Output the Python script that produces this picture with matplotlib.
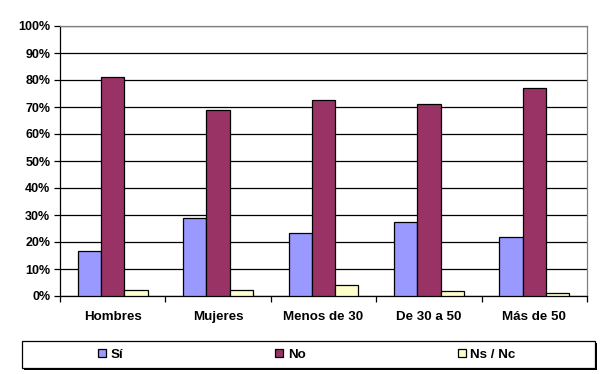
import numpy as np
import matplotlib
matplotlib.use("Agg")
from matplotlib import pyplot as plt
from matplotlib.patches import Rectangle
from matplotlib.ticker import FuncFormatter

categories = ["Hombres", "Mujeres", "Menos de 30", "De 30 a 50", "Más de 50"]
si = [16.5, 28.8, 23.2, 27.3, 21.7]
no = [81.0, 68.8, 72.5, 71.0, 76.9]
ns_nc = [2.1, 2.1, 4.1, 1.9, 1.0]
series_names = ["Sí", "No", "Ns / Nc"]
colors = ["#9999FF", "#993366", "#FFFFCC"]

plt.rcParams['font.family'] = ['Liberation Sans', 'DejaVu Sans']
plt.rcParams['font.weight'] = 'bold'
plt.rcParams['font.size'] = 9

W, H = 601, 374
fig = plt.figure(figsize=(W / 100, H / 100), dpi=100)
ax = fig.add_axes([60 / W, (H - 296) / H, (587 - 60) / W, (296 - 26) / H])

x = np.arange(len(categories))
width = 0.221
bars = []
for i, (vals, name) in enumerate(zip([si, no, ns_nc], series_names)):
    b = ax.bar(x + (i - 1) * width, vals, width, color=colors[i], edgecolor='black',
               linewidth=0.9, label=name, zorder=3)
    bars.append(b)

ax.set_xlim(-0.5, len(categories) - 0.5)
ax.set_ylim(0, 100)
ax.set_yticks(np.arange(0, 101, 10))
ax.yaxis.set_major_formatter(FuncFormatter(lambda v, p: f"{int(v)}%"))
ax.yaxis.grid(True, color='black', linewidth=0.9, zorder=0)

ax.set_xticks(x)
ax.set_xticklabels(categories, fontsize=9.6)
ax.set_xticks(np.arange(-0.5, len(categories)), minor=True)
ax.tick_params(axis='x', which='major', length=0, pad=11)
ax.tick_params(axis='x', which='minor', length=4, width=0.9, color='black')
ax.tick_params(axis='y', length=4, width=0.9, pad=3)

ax.spines['left'].set_color('black')
ax.spines['bottom'].set_color('black')
ax.spines['top'].set_color('#808080')
ax.spines['right'].set_color('#808080')
for s in ax.spines.values():
    s.set_linewidth(0.9)
ax.spines['top'].set_zorder(4)

# legend frame with shadow
lx0, lx1, ly0, ly1 = 22, 595, 341, 368
fig.patches.append(Rectangle(((lx0 + 2) / W, (H - ly1 - 2) / H), (lx1 - lx0) / W, (ly1 - ly0) / H,
                             transform=fig.transFigure, facecolor='black', edgecolor='none'))
fig.patches.append(Rectangle((lx0 / W, (H - ly1) / H), (lx1 - lx0) / W, (ly1 - ly0) / H,
                             transform=fig.transFigure, facecolor='white', edgecolor='black',
                             linewidth=0.9))

leg = fig.legend(handles=bars, labels=series_names, ncol=3, loc='center left',
                 bbox_to_anchor=(98 / W, 1 - 354.5 / H), frameon=False, borderpad=0,
                 borderaxespad=0, handlelength=0.6, handleheight=0.6, handletextpad=0.35,
                 columnspacing=11.4, fontsize=9.6)

fig.savefig("out.png", dpi=100)
